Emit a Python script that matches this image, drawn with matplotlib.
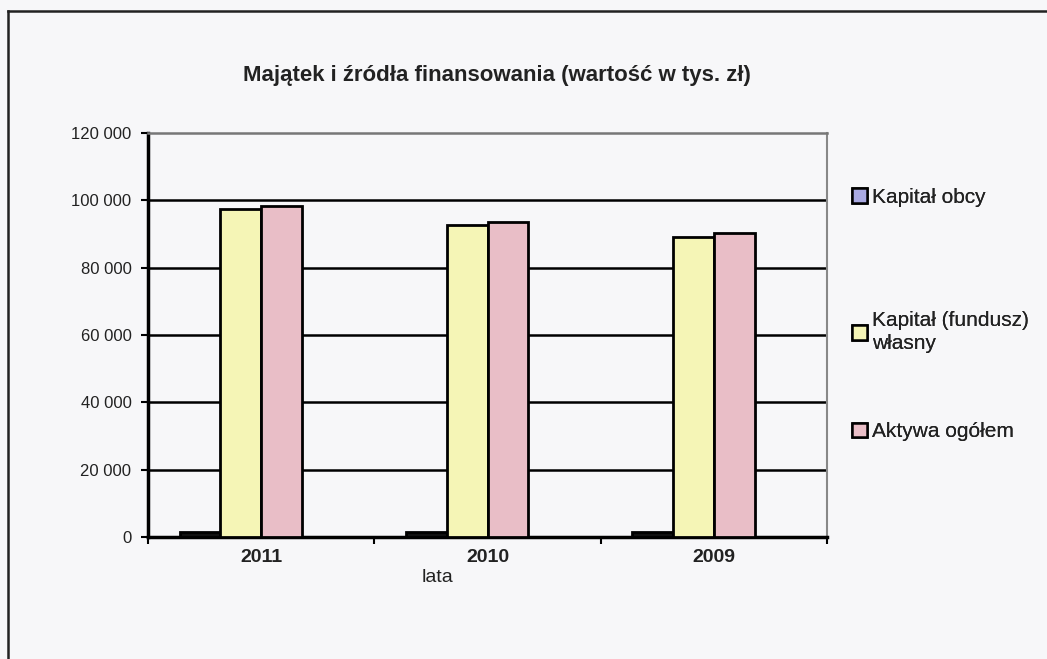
import matplotlib.pyplot as plt
from matplotlib.lines import Line2D

plt.rcParams['font.family'] = ['Liberation Sans', 'DejaVu Sans']

# Data (tys. zl)
years = ['2011', '2010', '2009']
kapital_obcy = [1500, 1500, 1400]
kapital_wlasny = [97600, 92700, 89200]
aktywa = [98400, 93600, 90400]

series_names = ['Kapitał obcy', 'Kapitał (fundusz)\nwłasny', 'Aktywa ogółem']
series_colors = ['#a9a9e2', '#f5f5b6', '#e9bec7']
yticks = [0, 20000, 40000, 60000, 80000, 100000, 120000]
ytick_labels = ['0', '20 000', '40 000', '60 000', '80 000', '100 000', '120 000']

bg = '#f7f7f9'
fig = plt.figure(figsize=(10.47, 6.59), dpi=100, facecolor=bg)
ax = fig.add_axes([0.1414, 0.185, 0.6485, 0.613])
ax.set_facecolor(bg)

width = 0.18
offsets = [-0.27, -0.09, 0.09]
x = list(range(len(years)))
bars = []
for vals, off, col in zip([kapital_obcy, kapital_wlasny, aktywa], offsets, series_colors):
    b = ax.bar([i + off for i in x], vals, width=width, color=col,
               edgecolor='black', linewidth=2, zorder=3)
    bars.append(b)

# the tiny bars look black in the scan
for r in bars[0]:
    r.set_facecolor('#111111')

ax.set_ylim(0, 120000)
ax.set_xlim(-0.5, 2.5)
ax.set_yticks(yticks)
ax.set_yticklabels(ytick_labels, fontsize=12, color='#222222')
ax.tick_params(axis='y', length=5, width=1.5, pad=7, direction='out')

# gridlines
for yv in yticks[1:-1]:
    ax.axhline(yv, color='black', linewidth=1.8, zorder=1)

ax.set_xticks([-0.5, 0.5, 1.5, 2.5])
ax.set_xticklabels([])
ax.tick_params(axis='x', length=5, width=1.5, direction='out')
for i, yr in enumerate(years):
    ax.text(i, -0.03, yr, transform=ax.get_xaxis_transform(),
            ha='center', va='top', fontsize=14, fontweight='bold', color='#222222')
ax.text(0.426, -0.08, 'lata', transform=ax.transAxes, ha='center', va='top',
        fontsize=14, color='#222222')

ax.spines['left'].set_linewidth(2.5)
ax.spines['bottom'].set_linewidth(2.5)
ax.spines['top'].set_color('#777777')
ax.spines['top'].set_linewidth(1.8)
ax.spines['right'].set_color('#888888')
ax.spines['right'].set_linewidth(1.5)

fig.text(0.475, 0.886, 'Majątek i źródła finansowania (wartość w tys. zł)',
         ha='center', va='center', fontsize=16, fontweight='bold', color='#222222')

# legend entries placed one by one
leg_y = [0.728, 0.540, 0.372]
for k, (b, name, yy) in enumerate(zip(bars, series_names, leg_y)):
    leg = fig.legend([b], [name], loc='upper left', bbox_to_anchor=(0.806, yy),
                     frameon=False, fontsize=15, handlelength=0.7, handleheight=0.7,
                     handletextpad=0.25, borderaxespad=0)
    h = leg.legend_handles[0]
    h.set_facecolor(series_colors[k])
    h.set_linewidth(1.8)
    for t in leg.get_texts():
        t.set_color('#222222')
        t.set_linespacing(1.25)
    fig.add_artist(leg)

# outer frame (top and left edges visible)
fig.add_artist(Line2D([0.008, 1.0], [0.983, 0.983], color='#222222', linewidth=1.8,
                      transform=fig.transFigure))
fig.add_artist(Line2D([0.008, 0.008], [0.0, 0.983], color='#222222', linewidth=1.8,
                      transform=fig.transFigure))

fig.savefig('out.png', dpi=100, facecolor=bg)
